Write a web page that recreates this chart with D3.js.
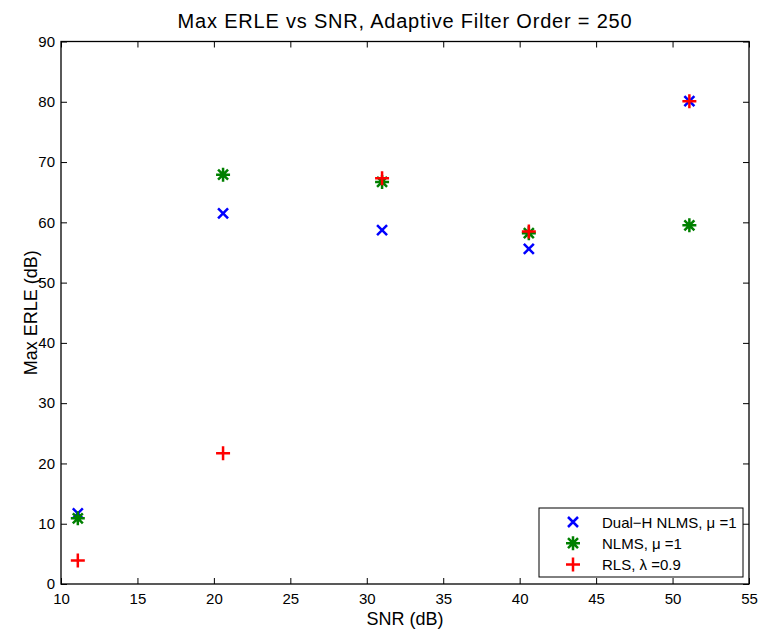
<!DOCTYPE html>
<html>
<head>
<meta charset="utf-8">
<script src="https://cdn.jsdelivr.net/npm/d3@7"></script>
<style>
  body { margin: 0; background: #fff; }
  svg { display: block; font-family: "Liberation Sans", Arial, Helvetica, sans-serif; }
</style>
</head>
<body>
<svg id="chart" width="758" height="631"></svg>
<script>
// data
const snr = [11.1, 20.6, 31.0, 40.6, 51.1];
const dualH = [11.7, 61.5, 58.7, 55.6, 80.1];
const nlms = [10.9, 67.9, 66.7, 58.2, 59.5];
const rls = [3.9, 21.7, 67.3, 58.5, 80.1];

const xTicks = [10, 15, 20, 25, 30, 35, 40, 45, 50, 55];
const yTicks = [0, 10, 20, 30, 40, 50, 60, 70, 80, 90];

const seriesNames = ["Dual\u2212H NLMS, \u03bc =1", "NLMS, \u03bc =1", "RLS, \u03bb =0.9"];
const seriesColors = ["#0000ff", "#008000", "#ff0000"];
const seriesShapes = ["x", "star", "plus"];
const seriesData = [dualH, nlms, rls];

const svg = d3.select("#chart");
const plot = {left: 61, right: 749, top: 41.5, bottom: 584};

const x = d3.scaleLinear().domain([10, 55]).range([plot.left, plot.right]);
const y = d3.scaleLinear().domain([0, 90]).range([plot.bottom, plot.top]);

//  marker path centred on 0,0
function markerPath(shape) {
    const p = d3.path();
    const a = 7;      // plus arm
    const d = 5;      // diagonal arm
    if (shape === "plus" || shape === "star") {
        p.moveTo(-a, 0); p.lineTo(a, 0);
        p.moveTo(0, -a); p.lineTo(0, a);
    }
    if (shape === "x" || shape === "star") {
        p.moveTo(-d, -d); p.lineTo(d, d);
        p.moveTo(-d, d); p.lineTo(d, -d);
    }
    return p.toString();
}

// ticks, inward on all four sides
const tickLen = 6;
const bottomAxis = d3.axisBottom(x).tickValues(xTicks).tickSizeInner(-tickLen).tickSizeOuter(0).tickPadding(9);
const leftAxis = d3.axisLeft(y).tickValues(yTicks).tickSizeInner(-tickLen).tickSizeOuter(0).tickPadding(6);
const topAxis = d3.axisTop(x).tickValues(xTicks).tickSizeInner(-tickLen).tickSizeOuter(0).tickFormat("");
const rightAxis = d3.axisRight(y).tickValues(yTicks).tickSizeInner(-tickLen).tickSizeOuter(0).tickFormat("");

function styleAxis(g) {
    g.select(".domain").remove();
    g.selectAll(".tick line").attr("stroke", "#000").attr("stroke-width", 1);
    g.selectAll(".tick text").attr("font-size", 15).attr("fill", "#000")
        .attr("font-family", "Liberation Sans, Arial, sans-serif");
}

svg.append("g").attr("transform", `translate(0,${plot.bottom})`).call(bottomAxis).call(styleAxis);
svg.append("g").attr("transform", `translate(${plot.left},0)`).call(leftAxis).call(styleAxis);
svg.append("g").attr("transform", `translate(0,${plot.top})`).call(topAxis).call(styleAxis);
svg.append("g").attr("transform", `translate(${plot.right},0)`).call(rightAxis).call(styleAxis);

// the box
svg.append("rect")
    .attr("x", plot.left).attr("y", plot.top)
    .attr("width", plot.right - plot.left).attr("height", plot.bottom - plot.top)
    .attr("fill", "none").attr("stroke", "#000").attr("stroke-width", 1.3);

// markers
seriesData.forEach((vals, i) => {
    svg.append("g").selectAll("path")
        .data(vals.map((v, j) => ({x: snr[j], y: v})))
        .join("path")
        .attr("transform", d => `translate(${x(d.x)},${y(d.y)})`)
        .attr("d", markerPath(seriesShapes[i]))
        .attr("stroke", seriesColors[i])
        .attr("stroke-width", 2.5)
        .attr("fill", "none");
});

// title and labels
svg.append("text")
    .attr("x", (plot.left + plot.right) / 2).attr("y", 28)
    .attr("text-anchor", "middle").attr("font-size", 20)
    .attr("letter-spacing", 0.8)
    .text("Max ERLE vs SNR, Adaptive Filter Order = 250");

svg.append("text")
    .attr("x", (plot.left + plot.right) / 2).attr("y", 625)
    .attr("text-anchor", "middle").attr("font-size", 18)
    .text("SNR (dB)");

svg.append("text")
    .attr("transform", `translate(37,${(plot.top + plot.bottom) / 2}) rotate(-90)`)
    .attr("text-anchor", "middle").attr("font-size", 18)
    .text("Max ERLE (dB)");

// legend
const legend = svg.append("g").attr("transform", "translate(539,508)");
legend.append("rect")
    .attr("width", 204).attr("height", 69)
    .attr("fill", "#fff").attr("stroke", "#000").attr("stroke-width", 1);

const rows = legend.selectAll(".legendRow")
    .data(seriesNames)
    .join("g")
    .attr("class", "legendRow")
    .attr("transform", (d, i) => `translate(0,${14 + i * 21.2})`);

rows.append("path")
    .attr("transform", "translate(34,0)")
    .attr("d", (d, i) => markerPath(seriesShapes[i]))
    .attr("stroke", (d, i) => seriesColors[i])
    .attr("stroke-width", 2.5)
    .attr("fill", "none");

rows.append("text")
    .attr("x", 63).attr("y", 5.5)
    .attr("font-size", 15)
    .text(d => d);
</script>
</body>
</html>
